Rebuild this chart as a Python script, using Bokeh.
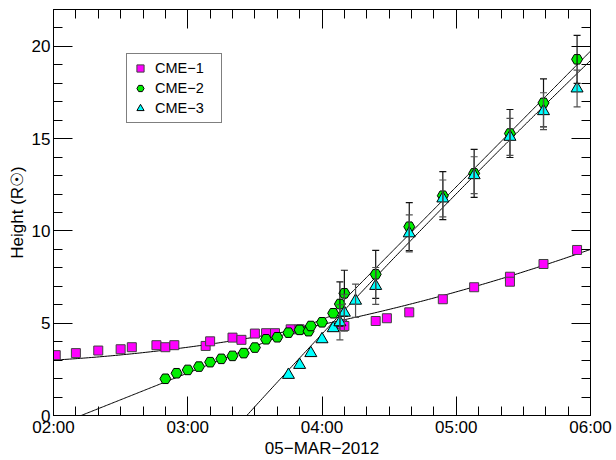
import numpy as np
from bokeh.plotting import figure
from bokeh.models import (Range1d, LinearAxis, FixedTicker, Legend, LegendItem,
                          ColumnDataSource, Whisker, TeeHead)
from bokeh.embed import file_html
from bokeh.resources import INLINE

# ---------------- data ----------------
cme1_time = ["02:01", "02:10", "02:20", "02:30", "02:35", "02:46", "02:50", "02:54",
             "03:08", "03:10", "03:20", "03:24", "03:30", "03:35", "03:39", "03:46",
             "03:50", "04:09", "04:10", "04:24", "04:29", "04:39", "04:54", "05:08",
             "05:24", "05:24", "05:39", "05:54"]
cme1_height = [3.27, 3.38, 3.52, 3.59, 3.70, 3.81, 3.70, 3.81,
               3.77, 4.02, 4.22, 4.10, 4.44, 4.46, 4.46, 4.67,
               4.67, 4.94, 4.85, 5.12, 5.27, 5.59, 6.30, 6.95,
               7.52, 7.25, 8.21, 8.97]

cme2_time = ["02:50", "02:55", "03:00", "03:05", "03:10", "03:15", "03:20", "03:25",
             "03:30", "03:35", "03:40", "03:45", "03:50", "03:54", "03:55", "04:00",
             "04:05", "04:08", "04:10", "04:24", "04:39", "04:54", "05:08", "05:24",
             "05:39", "05:54"]
cme2_height = [1.99, 2.29, 2.47, 2.65, 2.89, 3.07, 3.23, 3.38,
               3.68, 4.13, 4.24, 4.49, 4.64, 4.57, 4.85, 5.05,
               5.54, 6.04, 6.62, 7.65, 10.23, 11.91, 13.12, 15.28,
               16.94, 19.30]
cme2_error = [0, 0, 0, 0, 0, 0, 0, 0,
              0, 0, 0, 0, 0, 0, 0, 0,
              0, 1.2, 1.25, 1.3, 1.3, 1.3, 1.3, 1.3,
              1.3, 1.3]

cme3_time = ["03:45", "03:50", "03:55", "04:00", "04:05", "04:08", "04:10", "04:15",
             "04:24", "04:39", "04:54", "05:08", "05:24", "05:39", "05:54"]
cme3_height = [2.20, 2.74, 3.38, 4.13, 4.73, 5.05, 5.57, 6.22,
               7.02, 9.87, 11.76, 13.02, 15.10, 16.49, 17.72]
cme3_error = [0, 0, 0, 0, 0, 0.95, 1.0, 0.9,
              1.0, 1.0, 1.0, 1.0, 1.0, 1.0, 1.0]

# fit curves: h = c0 + c1*(t - t0) + c2*(t - t0)^2, t in hours
cme1_fit = {"t0": 2.0, "coef": [3.0, 0.432, 0.267], "span": [2.0, 6.0]}
cme2_slow_fit = {"t0": 2.206, "coef": [0.0, 2.9, 0.0], "span": [2.206, 4.17]}
cme2_fast_fit = {"t0": 4.10, "coef": [5.78, 7.35, 0.0], "span": [4.10, 6.0]}
cme3_fit = {"t0": 3.44, "coef": [0.0, 7.99, -0.186], "span": [3.44, 6.0]}

tick_hours = [2, 3, 4, 5, 6]
tick_labels = ["02:00", "03:00", "04:00", "05:00", "06:00"]
y_ticks = [0, 5, 10, 15, 20]
x_title = "05\u2212MAR\u22122012"
y_title = "Height (R\u2609)"
series_names = ["CME\u22121", "CME\u22122", "CME\u22123"]


def hours(ts):
    out = []
    for s in ts:
        hh, mm = s.split(":")
        out.append(int(hh) + int(mm) / 60.0)
    return np.array(out)


def curve(fit):
    t = np.linspace(fit["span"][0], fit["span"][1], 200)
    u = t - fit["t0"]
    c = fit["coef"]
    return t, c[0] + c[1] * u + c[2] * u * u


FONT = "Liberation Sans"

p = figure(width=616, height=460, x_range=Range1d(2, 6), y_range=Range1d(0, 22),
           output_backend="svg", toolbar_location=None, title=None,
           min_border_left=53, min_border_right=26, min_border_top=9,
           min_border_bottom=45)
p.grid.visible = False
p.outline_line_color = "black"
p.background_fill_color = "white"
p.border_fill_color = "white"

# fit lines
for fit in (cme1_fit, cme2_slow_fit, cme2_fast_fit, cme3_fit):
    t, h = curve(fit)
    p.line(t, h, line_color="black", line_width=1)

# markers
src1 = ColumnDataSource(dict(x=hours(cme1_time), y=cme1_height))
src2 = ColumnDataSource(dict(x=hours(cme2_time), y=cme2_height))
src3 = ColumnDataSource(dict(x=hours(cme3_time), y=cme3_height))

r1 = p.scatter("x", "y", source=src1, marker="square", size=9,
               fill_color="#FF00FF", line_color="#404040", line_width=1)
r2 = p.scatter("x", "y", source=src2, marker="hex", size=11,
               fill_color="#00EE00", line_color="black", line_width=1)
r3 = p.scatter("x", "y", source=src3, marker="triangle", size=12,
               fill_color="#00FFFF", line_color="black", line_width=1)

# error bars
for times, heights, errs, col in ((cme2_time, cme2_height, cme2_error, "#111111"),
                                  (cme3_time, cme3_height, cme3_error, "#505050")):
    tt = hours(times)
    sel = [i for i, e in enumerate(errs) if e > 0]
    es = ColumnDataSource(dict(
        base=[tt[i] for i in sel],
        upper=[heights[i] + errs[i] for i in sel],
        lower=[heights[i] - errs[i] for i in sel]))
    w = Whisker(source=es, base="base", upper="upper", lower="lower",
                line_color=col, line_width=1.2,
                upper_head=TeeHead(size=7, line_color=col, line_width=1.2),
                lower_head=TeeHead(size=7, line_color=col, line_width=1.2))
    w.level = "annotation"
    p.add_layout(w)

# axes
x_minor = list(np.arange(2.0, 6.0001, 1.0 / 6.0))
y_minor = list(range(0, 23))
xt = FixedTicker(ticks=tick_hours, minor_ticks=x_minor)
yt = FixedTicker(ticks=y_ticks, minor_ticks=y_minor)


def style(ax):
    ax.axis_line_color = "black"
    ax.major_tick_line_color = "black"
    ax.minor_tick_line_color = "black"
    ax.major_tick_in = 19
    ax.major_tick_out = 0
    ax.minor_tick_in = 9
    ax.minor_tick_out = 0
    ax.major_label_text_font = FONT
    ax.major_label_text_font_size = "17px"
    ax.major_label_text_color = "black"
    ax.axis_label_text_font = FONT
    ax.axis_label_text_font_size = "17px"
    ax.axis_label_text_font_style = "normal"
    ax.axis_label_text_color = "black"


xa = p.xaxis[0]
xa.ticker = xt
style(xa)
xa.major_label_overrides = {h: lbl for h, lbl in zip(tick_hours, tick_labels)}
xa.major_label_standoff = 2
xa.axis_label = x_title
xa.axis_label_standoff = -1

ya = p.yaxis[0]
ya.ticker = yt
style(ya)
ya.major_label_standoff = 3
ya.axis_label = y_title
ya.axis_label_standoff = 2

top = LinearAxis(ticker=FixedTicker(ticks=tick_hours, minor_ticks=x_minor),
                 fixed_location=22)
style(top)
top.major_label_overrides = {h: "" for h in tick_hours}
top.major_label_standoff = 0
p.add_layout(top, "above")

right = LinearAxis(ticker=FixedTicker(ticks=y_ticks, minor_ticks=y_minor),
                   fixed_location=6)
style(right)
right.major_label_overrides = {v: "" for v in y_ticks}
right.major_label_standoff = 0
p.add_layout(right, "right")

legend = Legend(items=[LegendItem(label=series_names[0], renderers=[r1]),
                       LegendItem(label=series_names[1], renderers=[r2]),
                       LegendItem(label=series_names[2], renderers=[r3])],
                location=(73, 292))
legend.border_line_color = "black"
legend.border_line_width = 1
legend.background_fill_color = "white"
legend.background_fill_alpha = 1.0
legend.label_text_font = FONT
legend.label_text_font_size = "14.5px"
legend.label_text_color = "black"
legend.glyph_width = 18
legend.glyph_height = 20
legend.label_height = 20
legend.label_width = 62
legend.label_standoff = 6
legend.padding = 4
legend.spacing = 0
legend.margin = 0
p.add_layout(legend)

open("out.html", "w").write(file_html(p, INLINE))
